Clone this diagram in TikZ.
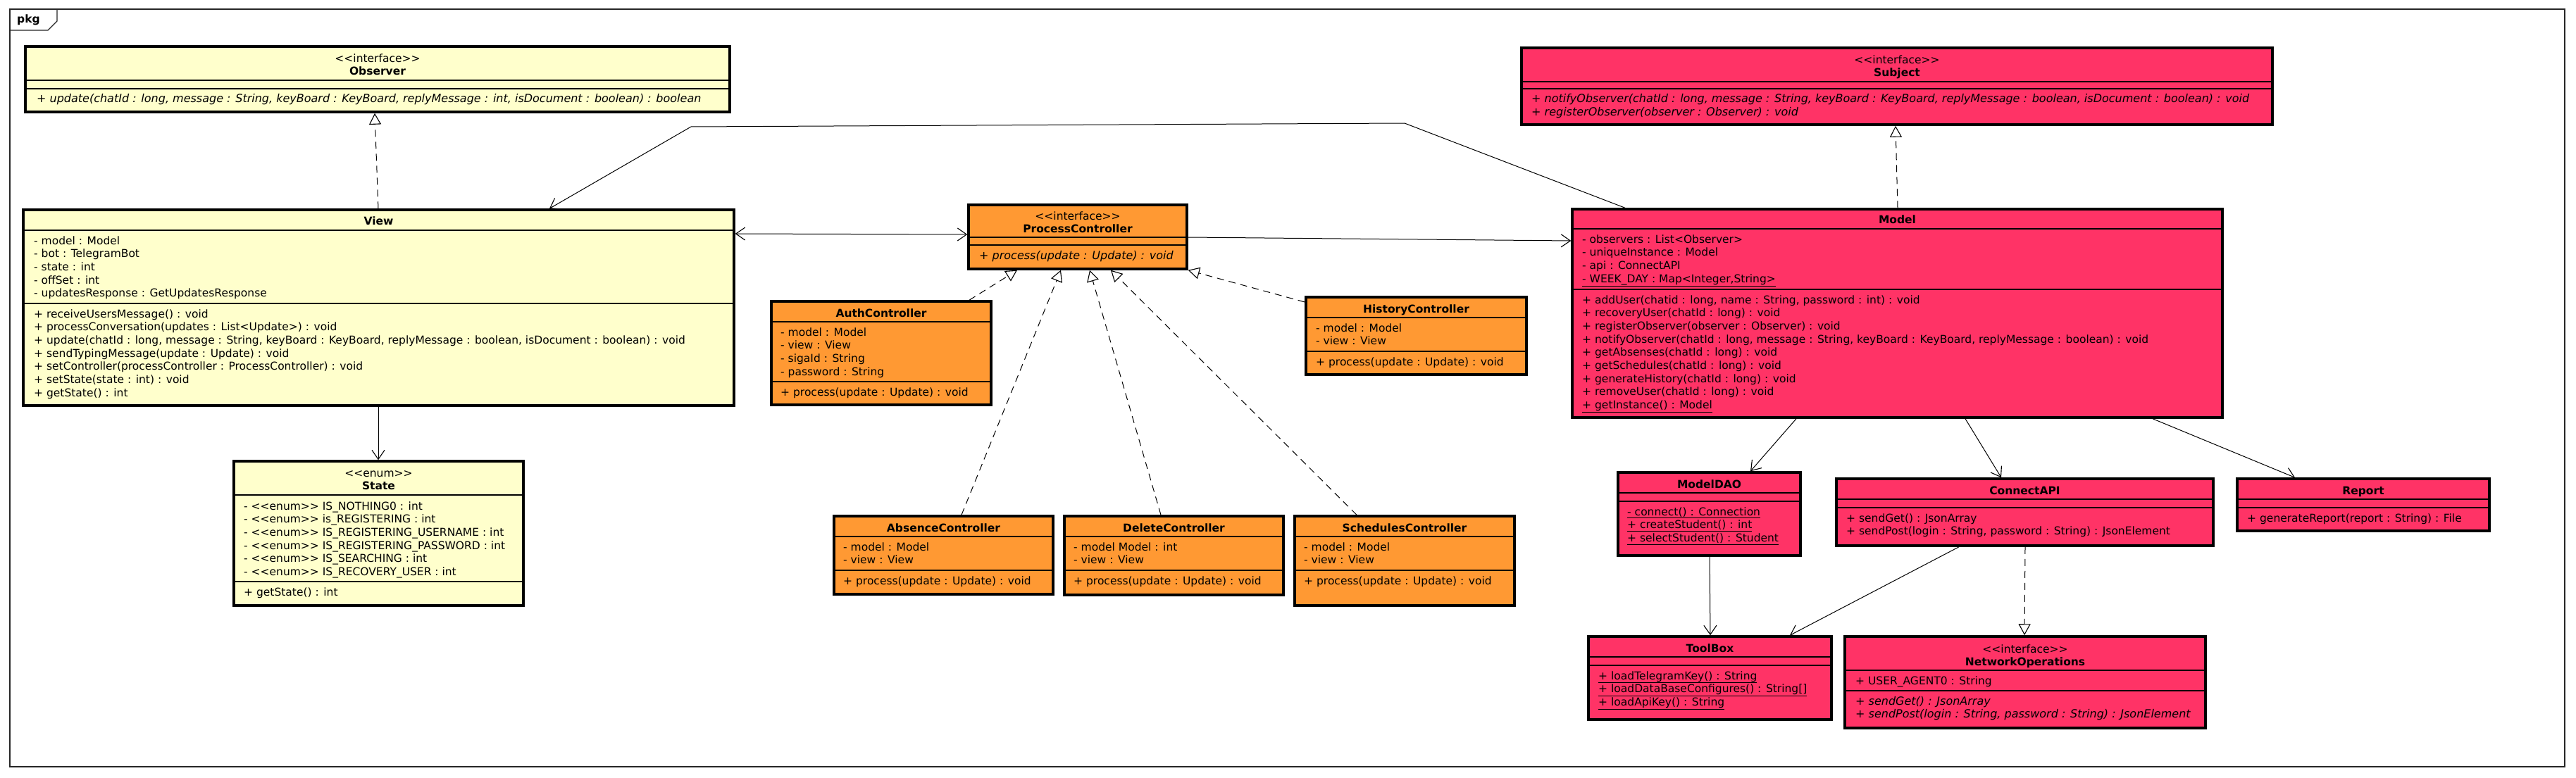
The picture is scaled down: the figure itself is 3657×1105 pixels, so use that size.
\documentclass[tikz,border=0pt]{standalone}
\usepackage{fontspec}
\setmainfont{DejaVu Sans}[Ligatures=TeXOff]
\usetikzlibrary{arrows.meta,fit}
\definecolor{cy}{HTML}{FFFFCC}
\definecolor{co}{HTML}{FF9933}
\definecolor{cp}{HTML}{FF3366}
\newcommand\umlfs{\fontsize{15.5}{18.7}\selectfont}
\newcommand\umlfsi{\fontsize{16}{18.7}\selectfont\itshape}
\newcommand\umlbox[6]{\path (#2,#3) coordinate (#1nw) (#4,#5) coordinate (#1se);
  \node[umlclass, fill=#6, fit=(#1nw)(#1se)] (#1) {};}
\newcommand\umlsep[2]{\draw[sepline] (#1.west |- 0,#2) -- (#1.east |- 0,#2);}
\newcommand\umlrows[5]{\foreach \rt [count=\rk] in {#5} {\node[txt,#4] (#1\rk) at ({#2},{#3+18.7*(\rk-1)}) {\rt};}}
\newcommand\umltitle[3]{\node[ttl] (#1t) at (#1.north |- 0,#2) {#3};}
\newcommand\umlster[3]{\node[ster] (#1s) at (#1.north |- 0,#2) {#3};}
\begin{document}
\begin{tikzpicture}[x=1pt,y=-1pt,
  umlclass/.style={draw=black, line width=3.5pt, inner sep=0pt},
  sepline/.style={line width=1.5pt},
  txt/.style={inner sep=0pt, font=\umlfs, anchor=base west},
  ital/.style={font=\umlfsi},
  ttl/.style={inner sep=0pt, font=\umlfs\bfseries, anchor=base},
  ster/.style={inner sep=0pt, font=\umlfs, anchor=base},
  assoc/.style={line width=1pt, -{Straight Barb[length=13pt,width=18pt,line width=1.1pt]}},
  bassoc/.style={line width=1pt, {Straight Barb[length=13pt,width=18pt,line width=1.1pt]}-{Straight Barb[length=13pt,width=18pt,line width=1.1pt]}},
  realiz/.style={line width=1pt, dash pattern=on 10pt off 7pt, -{Triangle[open,length=16pt,width=17pt,fill=white,line width=1.1pt]}}
]
\fill[white] (0,0) rectangle (3657,1105);
\useasboundingbox (0,0) rectangle (3657,1105);
% package frame
\draw[line width=1.4pt, black!85] (14,13) rectangle (3641,1089);
\draw[line width=1.4pt, black!85] (14,43) -- (68,43) -- (81,30) -- (81,13);
\node[txt, font=\umlfs\bfseries] (pkg) at (24,33) {pkg};

% ---------- classes ----------
\umlbox{observer}{36}{66}{1036}{159}{cy}
\umlster{observer}{89}{<<interface>>}
\umltitle{observer}{107}{Observer}
\umlsep{observer}{114}\umlsep{observer}{126}
\umlrows{observerm}{52}{146}{ital}{{+ update(chatId : long, message : String, keyBoard : KeyBoard, replyMessage : int, isDocument : boolean) : boolean}}

\umlbox{view}{33}{298}{1042}{576}{cy}
\umltitle{view}{319}{View}
\umlsep{view}{327}\umlsep{view}{431}
\umlrows{viewa}{48}{347}{}{{- model : Model},{- bot : TelegramBot},{- state : int},{- offSet : int},{- updatesResponse : GetUpdatesResponse}}
\umlrows{viewm}{48}{451}{}{{+ receiveUsersMessage() : void},{+ processConversation(updates : List<Update>) : void},{+ update(chatId : long, message : String, keyBoard : KeyBoard, replyMessage : boolean, isDocument : boolean) : void},{+ sendTypingMessage(update : Update) : void},{+ setController(processController : ProcessController) : void},{+ setState(state : int) : void},{+ getState() : int}}

\umlbox{state}{332}{655}{743}{860}{cy}
\umlster{state}{677}{<<enum>>}
\umltitle{state}{695}{State}
\umlsep{state}{703}\umlsep{state}{826}
\umlrows{statea}{346}{724}{}{{- <<enum>> IS\_NOTHING0 : int},{- <<enum>> is\_REGISTERING : int},{- <<enum>> IS\_REGISTERING\_USERNAME : int},{- <<enum>> IS\_REGISTERING\_PASSWORD : int},{- <<enum>> IS\_SEARCHING : int},{- <<enum>> IS\_RECOVERY\_USER : int}}
\umlrows{statem}{346}{846}{}{{+ getState() : int}}

\umlbox{pc}{1375}{291}{1685}{382}{co}
\umlster{pc}{312}{<<interface>>}
\umltitle{pc}{330}{ProcessController}
\umlsep{pc}{337}\umlsep{pc}{348}
\umlrows{pcm}{1390}{368}{ital}{{+ process(update : Update) : void}}

\umlbox{auth}{1095}{428}{1407}{575}{co}
\umltitle{auth}{450}{AuthController}
\umlsep{auth}{457}\umlsep{auth}{542}
\umlrows{autha}{1108}{477}{}{{- model : Model},{- view : View},{- sigaId : String},{- password : String}}
\umlrows{authm}{1108}{562}{}{{+ process(update : Update) : void}}

\umlbox{history}{1854}{422}{2167}{532}{co}
\umltitle{history}{444}{HistoryController}
\umlsep{history}{451}\umlsep{history}{499}
\umlrows{historya}{1868}{471}{}{{- model : Model},{- view : View}}
\umlrows{historym}{1868}{519}{}{{+ process(update : Update) : void}}

\umlbox{absence}{1184}{733}{1495}{844}{co}
\umltitle{absence}{755}{AbsenceController}
\umlsep{absence}{762}\umlsep{absence}{810}
\umlrows{absencea}{1197}{782}{}{{- model : Model},{- view : View}}
\umlrows{absencem}{1197}{830}{}{{+ process(update : Update) : void}}

\umlbox{delete}{1511}{733}{1822}{845}{co}
\umltitle{delete}{755}{DeleteController}
\umlsep{delete}{762}\umlsep{delete}{810}
\umlrows{deletea}{1524}{782}{}{{- model Model : int},{- view : View}}
\umlrows{deletem}{1524}{830}{}{{+ process(update : Update) : void}}

\umlbox{schedules}{1838}{733}{2150}{860}{co}
\umltitle{schedules}{755}{SchedulesController}
\umlsep{schedules}{762}\umlsep{schedules}{810}
\umlrows{schedulesa}{1851}{782}{}{{- model : Model},{- view : View}}
\umlrows{schedulesm}{1851}{830}{}{{+ process(update : Update) : void}}

\umlbox{subject}{2160}{68}{3226}{177}{cp}
\umlster{subject}{91}{<<interface>>}
\umltitle{subject}{109}{Subject}
\umlsep{subject}{116}\umlsep{subject}{126}
\umlrows{subjectm}{2174}{146}{ital}{{+ notifyObserver(chatId : long, message : String, keyBoard : KeyBoard, replyMessage : boolean, isDocument : boolean) : void},{+ registerObserver(observer : Observer) : void}}

\umlbox{model}{2232}{297}{3155}{593}{cp}
\umltitle{model}{317}{Model}
\umlsep{model}{325}\umlsep{model}{411}
\umlrows{modela}{2246}{345}{}{{- observers : List<Observer>},{- uniqueInstance : Model},{- api : ConnectAPI},{\underline{- WEEK\_DAY : Map<Integer,String>}}}
\umlrows{modelm}{2246}{431}{}{{+ addUser(chatid : long, name : String, password : int) : void},{+ recoveryUser(chatId : long) : void},{+ registerObserver(observer : Observer) : void},{+ notifyObserver(chatId : long, message : String, keyBoard : KeyBoard, replyMessage : boolean) : void},{+ getAbsenses(chatId : long) : void},{+ getSchedules(chatId : long) : void},{+ generateHistory(chatId : long) : void},{+ removeUser(chatId : long) : void},{\underline{+ getInstance() : Model}}}

\umlbox{modeldao}{2297}{671}{2556}{789}{cp}
\umltitle{modeldao}{693}{ModelDAO}
\umlsep{modeldao}{700}\umlsep{modeldao}{712}
\umlrows{modeldaom}{2310}{732}{}{{\underline{- connect() : Connection}},{\underline{+ createStudent() : int}},{\underline{+ selectStudent() : Student}}}

\umlbox{connectapi}{2607}{680}{3142}{775}{cp}
\umltitle{connectapi}{702}{ConnectAPI}
\umlsep{connectapi}{709}\umlsep{connectapi}{721}
\umlrows{connectapim}{2621}{741}{}{{+ sendGet() : JsonArray},{+ sendPost(login : String, password : String) : JsonElement}}

\umlbox{report}{3176}{680}{3534}{754}{cp}
\umltitle{report}{702}{Report}
\umlsep{report}{709}\umlsep{report}{721}
\umlrows{reportm}{3190}{741}{}{{+ generateReport(report : String) : File}}

\umlbox{toolbox}{2255}{904}{2600}{1022}{cp}
\umltitle{toolbox}{926}{ToolBox}
\umlsep{toolbox}{933}\umlsep{toolbox}{945}
\umlrows{toolboxm}{2269}{965}{}{{\underline{+ loadTelegramKey() : String}},{\underline{+ loadDataBaseConfigures() : String[]}},{\underline{+ loadApiKey() : String}}}

\umlbox{netops}{2619}{904}{3131}{1034}{cp}
\umlster{netops}{927}{<<interface>>}
\umltitle{netops}{945}{NetworkOperations}
\umlsep{netops}{952}\umlsep{netops}{981}
\umlrows{netopsa}{2634}{972}{}{{+ USER\_AGENT0 : String}}
\umlrows{netopsm}{2634}{1001}{ital}{{+ sendGet() : JsonArray},{+ sendPost(login : String, password : String) : JsonElement}}

% ---------- connectors ----------
\draw[realiz] (537,0 |- view.north) -- (532,0 |- observer.south);
\draw[assoc] (2307,0 |- model.north) -- (1994,175) -- (981,180) -- (780,0 |- view.north);
\draw[bassoc] (view.east |- 0,332) -- (pc.west |- 0,333);
\draw[assoc] (pc.east |- 0,337) -- (model.west |- 0,342);
\draw[assoc] (537,0 |- view.south) -- (537,0 |- state.north);
\draw[realiz] (2694,0 |- model.north) -- (2691,0 |- subject.south);
\draw[realiz] (1376,0 |- auth.north) -- (1444,0 |- pc.south);
\draw[realiz] (1365,0 |- absence.north) -- (1506,0 |- pc.south);
\draw[realiz] (1648,0 |- delete.north) -- (1547,0 |- pc.south);
\draw[realiz] (1926,0 |- schedules.north) -- (1577,0 |- pc.south);
\draw[realiz] (history.west |- 0,429) -- (pc.south east);
\draw[assoc] (2550,0 |- model.south) -- (2485,0 |- modeldao.north);
\draw[assoc] (2790,0 |- model.south) -- (2841,0 |- connectapi.north);
\draw[assoc] (3056,0 |- model.south) -- (3258,0 |- report.north);
\draw[assoc] (2427,0 |- modeldao.south) -- (2428,0 |- toolbox.north);
\draw[assoc] (2781,0 |- connectapi.south) -- (2541,0 |- toolbox.north);
\draw[realiz] (2875,0 |- connectapi.south) -- (2874,0 |- netops.north);
\end{tikzpicture}
\end{document}
